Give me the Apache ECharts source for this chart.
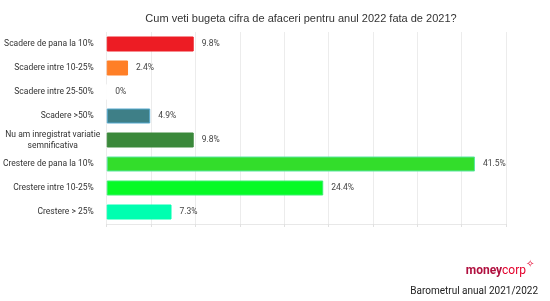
<!DOCTYPE html>
<html>
<head>
<meta charset="utf-8">
<script src="https://cdn.jsdelivr.net/npm/echarts@6/dist/echarts.min.js"></script>
<style>
html,body{margin:0;padding:0;background:#fff;}
#chart{width:550px;height:301px;}
</style>
</head>
<body>
<div id="chart"></div>
<script>
var categories = [
  "Scadere de pana la 10%",
  "Scadere intre 10-25%",
  "Scadere intre 25-50%",
  "Scadere >50%",
  "Nu am inregistrat variatie\nsemnificativa",
  "Crestere de pana la 10%",
  "Crestere intre 10-25%",
  "Crestere > 25%"
];
var values = [9.8, 2.4, 0, 4.9, 9.8, 41.5, 24.4, 7.3];
var titleText = "Cum veti bugeta cifra de afaceri pentru anul 2022 fata de 2021?";
var footerText = "Barometrul anual 2021/2022";

var barColors = ["#ed1c24", "#ff7f27", "#ffffff", "#3e7f87", "#3b893b", "#33dd2b", "#06fa25", "#00ffb0"];
var barBorders = ["#ed1c24", "#ff7f27", "#ffffff", "#55a9cf", "#3b893b", "#5ae6a0", "#3cf070", "#00ffb0"];

var chart = echarts.init(document.getElementById('chart'), null, {renderer: 'canvas'});
chart.setOption({
  backgroundColor: '#ffffff',
  animation: false,
  title: {
    text: titleText,
    left: 296,
    textAlign: 'center',
    top: 8,
    textStyle: {fontFamily: 'Liberation Sans', fontSize: 11, fontWeight: 'normal', color: '#333'}
  },
  grid: {left: 103, right: 44, top: 32, height: 192},
  xAxis: {
    type: 'value', min: 0, max: 45, interval: 5,
    axisLabel: {show: false},
    axisLine: {show: true, lineStyle: {color: '#e8e8e8'}},
    axisTick: {show: true, length: 3, lineStyle: {color: '#e0e0e0'}},
    splitLine: {show: true, lineStyle: {color: '#ececec', width: 1}}
  },
  yAxis: {
    type: 'category', data: categories, inverse: true,
    axisLine: {show: false}, axisTick: {show: false},
    axisLabel: {
      margin: 13,
      fontFamily: 'Roboto', fontSize: 8.5, color: '#333', lineHeight: 11,
      formatter: function (v) {
        if (v.indexOf('\n') >= 0) {
          return v.split('\n').map(function (s) { return '{c|' + s + '}'; }).join('\n');
        }
        return v;
      },
      rich: {c: {width: 82, align: 'center', fontFamily: 'Roboto', fontSize: 8.5, color: '#333', lineHeight: 11}}
    }
  },
  series: [{
    type: 'bar',
    barWidth: 15,
    data: values.map(function (v, i) {
      return {value: v, itemStyle: {color: barColors[i], borderColor: barBorders[i], borderWidth: 1}};
    }),
    label: {
      show: true, position: 'right', distance: 8,
      fontFamily: 'Roboto', fontSize: 8.5, color: '#444',
      formatter: function (p) { return p.value + '%'; }
    }
  }],
  graphic: [
    {
      type: 'text', right: 24, top: 265,
      style: {
        text: '{a|money}{b|corp}',
        rich: {
          a: {fontFamily: 'Roboto', fontSize: 12, fontWeight: 'bold', fill: '#b0103f'},
          b: {fontFamily: 'Roboto', fontSize: 12, fontWeight: 'normal', fill: '#e4002b'}
        }
      }
    },
    {
      type: 'text', left: 526, top: 259,
      style: {text: '\u2727', fontSize: 10, fill: '#e4002b'}
    },
    {
      type: 'text', right: 12, top: 286,
      style: {text: footerText, fontFamily: 'Roboto', fontSize: 10, fill: '#222'}
    }
  ]
});
</script>
</body>
</html>
